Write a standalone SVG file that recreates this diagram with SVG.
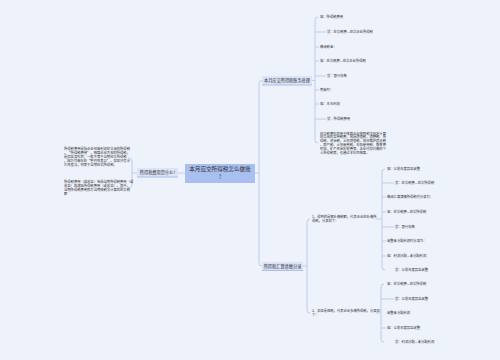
<svg xmlns="http://www.w3.org/2000/svg" width="500" height="360" viewBox="0 0 500 360">
<style>
text{font-family:"Noto Sans CJK SC","Noto Sans",sans-serif;fill:#333;}
.leaf{font-size:3.3px;}
.br{font-size:4.2px;}
.ctr{font-size:5.6px;}
.ln{fill:none;stroke:#b3c3ea;stroke-width:0.8;}
.nb{fill:#dbe4f8;}
.ul{stroke:#9fb3e6;stroke-width:0.8;}
</style>
<rect width="500" height="360" fill="#eef2fb"/>
<g id="connectors" class="ln">
  <path d="M255 173 H259 M262 80.5 Q259 80.5 259 83.5 V263 Q259 266 262 266"/>
  <path d="M185 173 H178 M128 158 Q132 158 132 161 V185 Q132 188 128 188 M137 173 H132"/>
  <path d="M312 80.5 H315 M318 17 Q315 17 315 20 V140 Q315 143 318 143 M315 32 H326 M315 47 H319 M315 61 H319 M315 76 H326 M315 90 H319 M315 104 H319 M315 119 H326"/>
  <path d="M303 266 H307 M310 219 Q307 219 307 222 V310 Q307 313 310 313"/>
  <path d="M376 219 H382 M385 169 Q382 169 382 172 V267 Q382 270 385 270 M382 183 H394 M382 197 H386 M382 212 H386 M382 227 H394 M382 241 H386 M382 256 H386"/>
  <path d="M376 313 H381 M384 284 Q381 284 381 287 V339 Q381 342 384 342 M381 299 H394 M381 328 H386"/>
</g>
<g id="center">
  <rect x="185" y="164" width="70" height="19" fill="#a9bff0"/>
  <text class="ctr" x="220" y="171" text-anchor="middle">本月应交所得税怎么做账</text>
  <text class="ctr" x="220" y="179" text-anchor="middle">?</text>
</g>
<g id="n-left">
  <rect class="nb" x="137" y="168" width="41" height="9"/>
  <line class="ul" x1="137" y1="177" x2="178" y2="177"/>
  <text class="br" x="157.5" y="174.3" text-anchor="middle">所得税费用是什么?</text>
</g>
<g id="n-left-1">
  <text class="leaf" x="64" y="150.2">所得税费用是指企业经营利润应交纳的所得税</text>
  <text class="leaf" x="64" y="154.2">，“所得税费用”，核算企业负担的所得税，</text>
  <text class="leaf" x="64" y="158.2">是损益类科目；一般不等于当期应交所得税</text>
  <text class="leaf" x="64" y="162.2">，因为可能存在“暂时性差异”。如果只有永</text>
  <text class="leaf" x="64" y="166.2">久性差异，则等于当期应交所得税。</text>
</g>
<g id="n-left-2">
  <text class="leaf" x="64" y="183">所得税费用（或收益）包括当期所得税费用（或</text>
  <text class="leaf" x="64" y="187">收益）和递延所得税费用（或收益）。其中，</text>
  <text class="leaf" x="64" y="191">当期所得税费用即为当期按税法计算的应交税</text>
  <text class="leaf" x="64" y="195">额</text>
</g>
<g id="n-top">
  <rect class="nb" x="262" y="76" width="50" height="9"/>
  <line class="ul" x1="262" y1="85" x2="312" y2="85"/>
  <text class="br" x="287" y="82" text-anchor="middle">本月应交所得税账务处理</text>
</g>
<g id="n-top-items" class="leaf">
  <text class="leaf" x="320" y="18.2">借：所得税费用</text>
  <text class="leaf" x="327" y="33.2">贷：应交税费—应交企业所得税</text>
  <text class="leaf" x="320" y="48.2">缴纳税金：</text>
  <text class="leaf" x="320" y="62.2">借：应交税费—应交企业所得税</text>
  <text class="leaf" x="327" y="77.2">贷：银行存款</text>
  <text class="leaf" x="320" y="91.2">期末时：</text>
  <text class="leaf" x="320" y="105.2">借：本年利润</text>
  <text class="leaf" x="327" y="120.2">贷：所得税费用</text>
</g>
<g id="n-top-para">
  <text class="leaf" x="320" y="134.5">应交税费科目用于核算企业按照税法规定计算</text>
  <text class="leaf" x="320" y="138.4">应交纳的各种税费，包括增值税、消费税、所</text>
  <text class="leaf" x="320" y="142.3">得税、资源税、土地增值税、城市维护建设税</text>
  <text class="leaf" x="320" y="146.2">、房产税、土地使用税、车船使用税、教育费</text>
  <text class="leaf" x="320" y="150.1">附加、矿产资源补偿费等。企业代扣代缴的个</text>
  <text class="leaf" x="320" y="154">人所得税等，也通过本科目核算。</text>
</g>
<g id="n-bottom">
  <rect class="nb" x="262" y="262" width="41" height="8.5"/>
  <line class="ul" x1="262" y1="270.5" x2="303" y2="270.5"/>
  <text class="br" x="282.5" y="267.8" text-anchor="middle">所得税汇算清缴分录</text>
</g>
<g id="n-b1">
  <text class="leaf" x="312" y="218.4">1、得到的是需补缴税额，代表企业应补缴所</text>
  <text class="leaf" x="312" y="222.4">得税，分录如下：</text>
</g>
<g id="n-b1-items">
  <text class="leaf" x="387" y="170.2">借：以前年度损益调整</text>
  <text class="leaf" x="395" y="184.2">贷：应交税费—应交所得税</text>
  <text class="leaf" x="387" y="198.2">缴纳汇算清缴所得税时分录为：</text>
  <text class="leaf" x="387" y="213.2">借：应交税费—应交所得税</text>
  <text class="leaf" x="395" y="228.2">贷：银行存款</text>
  <text class="leaf" x="387" y="242.2">调整未分配利润时分录为：</text>
  <text class="leaf" x="387" y="257.2">借：利润分配—未分配利润</text>
  <text class="leaf" x="395" y="271.2">贷：以前年度损益调整</text>
</g>
<g id="n-b2">
  <text class="leaf" x="312" y="312.2">2、如果是退税，代表企业多缴所得税，分录如</text>
  <text class="leaf" x="312" y="316.2">下：</text>
</g>
<g id="n-b2-items">
  <text class="leaf" x="387" y="285.2">借：应交税费—应交所得税</text>
  <text class="leaf" x="395" y="300.2">贷：以前年度损益调整</text>
  <text class="leaf" x="387" y="314.2">调整未分配利润</text>
  <text class="leaf" x="387" y="329.2">借：以前年度损益调整</text>
  <text class="leaf" x="395" y="343.2">贷：利润分配—未分配利润</text>
</g>
</svg>
